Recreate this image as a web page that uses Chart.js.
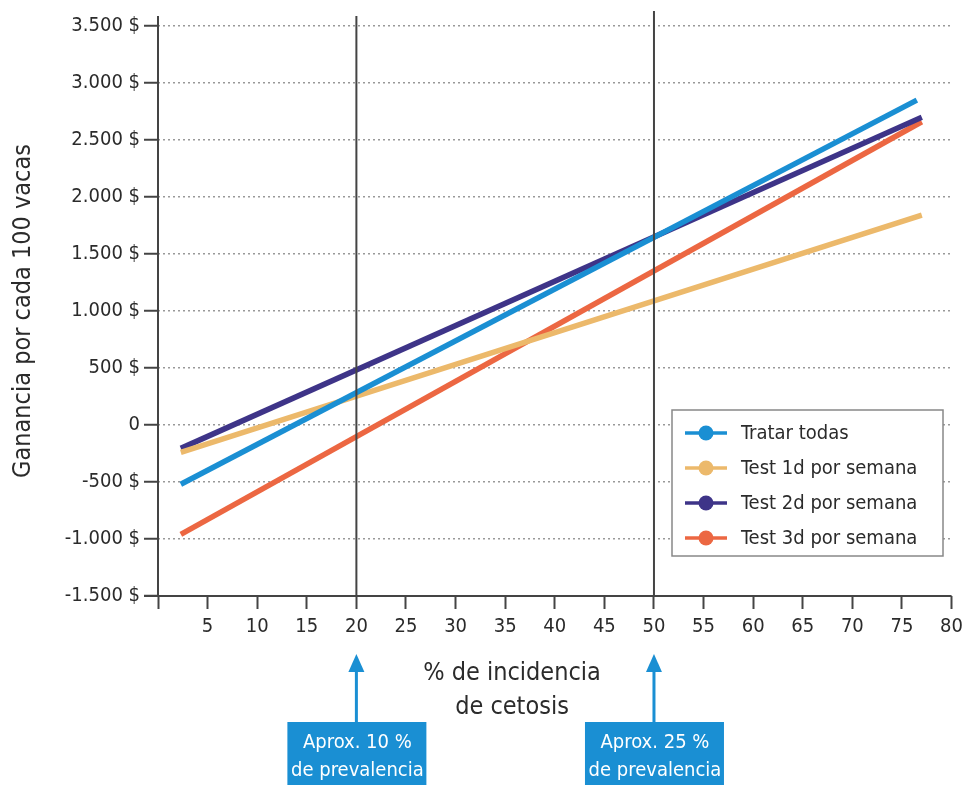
<!DOCTYPE html>
<html>
<head>
<meta charset="utf-8">
<script src="https://cdn.jsdelivr.net/npm/chart.js@4.4.1/dist/chart.umd.min.js"></script>
<style>
  html, body { margin: 0; padding: 0; background: #fff; }
  #wrap { width: 969px; height: 785px; }
</style>
</head>
<body>
<div id="wrap"><canvas id="chart" width="969" height="785"></canvas></div>
<script>
const FONT = '"Liberation Sans Narrow", "DejaVu Sans Condensed", "Liberation Sans", sans-serif';

// data
const seriesNames = ["Tratar todas", "Test 1d por semana", "Test 2d por semana", "Test 3d por semana"];
const seriesColors = ["#1a8fd3", "#ecb96b", "#3e3488", "#ec6742"];
const tratarX = [2.3, 76.5];
const tratarY = [-520, 2850];
const test1dX = [2.3, 77];
const test1dY = [-240, 1840];
const test2dX = [2.3, 77];
const test2dY = [-205, 2700];
const test3dX = [2.3, 77];
const test3dY = [-960, 2660];
const markers = [20, 50];
const markerNotes = [["Aprox. 10 %", "de prevalencia"], ["Aprox. 25 %", "de prevalencia"]];
const xTitle = ["% de incidencia", "de cetosis"];
const yTitle = "Ganancia por cada 100 vacas";

const pts = (xs, ys) => xs.map((x, i) => ({x: x, y: ys[i]}));
const allX = [tratarX, test1dX, test2dX, test3dX];
const allY = [tratarY, test1dY, test2dY, test3dY];

const datasets = seriesNames.map((name, i) => ({
    label: name,
    data: pts(allX[i], allY[i]),
    borderColor: seriesColors[i],
    backgroundColor: seriesColors[i],
    borderWidth: 5.5,
    pointRadius: 0,
    tension: 0
}));

function fmtMoney(v) {
    if (v === 0) return '0';
    const s = Math.abs(v).toString().replace(/\B(?=(\d{3})+(?!\d))/g, '.');
    return (v < 0 ? '-' : '') + s + ' $';
}

const extras = {
    id: 'extras',
    afterDatasetsDraw(chart) {
        const {ctx, chartArea: a, scales: {x, y}} = chart;
        ctx.save();
        // axes
        ctx.strokeStyle = '#444';
        ctx.lineWidth = 2;
        ctx.beginPath();
        ctx.moveTo(a.left, a.top - 10);
        ctx.lineTo(a.left, a.bottom);
        ctx.moveTo(a.left - 14, a.bottom);
        ctx.lineTo(a.right, a.bottom);
        ctx.stroke();
        // vertical marker lines
        markers.forEach((m, i) => {
            const px = x.getPixelForValue(m);
            ctx.beginPath();
            ctx.moveTo(px, a.top - (i === 0 ? 10 : 15));
            ctx.lineTo(px, a.bottom);
            ctx.stroke();
        });
        // legend
        const lx = 672, ly = 410, lw = 271, lh = 146;
        ctx.fillStyle = '#fff';
        ctx.fillRect(lx, ly, lw, lh);
        ctx.strokeStyle = '#888';
        ctx.lineWidth = 1.5;
        ctx.strokeRect(lx, ly, lw, lh);
        ctx.font = '20px ' + FONT;
        ctx.textBaseline = 'middle';
        ctx.textAlign = 'left';
        seriesNames.forEach((name, i) => {
            const cy = 433 + i * 35;
            ctx.strokeStyle = seriesColors[i];
            ctx.fillStyle = seriesColors[i];
            ctx.lineWidth = 3.5;
            ctx.beginPath();
            ctx.moveTo(685, cy);
            ctx.lineTo(727, cy);
            ctx.stroke();
            ctx.beginPath();
            ctx.arc(706, cy, 7.5, 0, Math.PI * 2);
            ctx.fill();
            ctx.fillStyle = '#2b2b2b';
            ctx.fillText(name, 741, cy + 1);
        });
        // x title
        ctx.font = '25px ' + FONT;
        ctx.textAlign = 'center';
        ctx.fillStyle = '#2b2b2b';
        ctx.fillText(xTitle[0], 512, 673);
        ctx.fillText(xTitle[1], 512, 707);
        // arrows and notes
        markers.forEach((m, i) => {
            const px = x.getPixelForValue(m);
            ctx.strokeStyle = '#1a8fd3';
            ctx.fillStyle = '#1a8fd3';
            ctx.lineWidth = 3;
            ctx.beginPath();
            ctx.moveTo(px, 668);
            ctx.lineTo(px, 722);
            ctx.stroke();
            ctx.beginPath();
            ctx.moveTo(px, 654);
            ctx.lineTo(px - 8, 672);
            ctx.lineTo(px + 8, 672);
            ctx.closePath();
            ctx.fill();
            ctx.fillRect(px - 69, 722, 139, 63);
            ctx.fillStyle = '#fff';
            ctx.font = '20px ' + FONT;
            ctx.fillText(markerNotes[i][0], px + 1, 743);
            ctx.fillText(markerNotes[i][1], px + 1, 771);
        });
        ctx.restore();
    }
};

new Chart(document.getElementById('chart'), {
    type: 'line',
    data: { datasets: datasets },
    options: {
        responsive: false,
        animation: false,
        layout: { padding: { top: 26, right: 14, left: 0, bottom: 0 } },
        plugins: { legend: { display: false }, tooltip: { enabled: false } },
        scales: {
            x: {
                type: 'linear',
                min: 0,
                max: 80,
                border: { display: false },
                grid: { drawOnChartArea: false, drawTicks: true, tickLength: 13, tickColor: '#444', tickWidth: 2 },
                ticks: {
                    stepSize: 5,
                    padding: 6,
                    color: '#2b2b2b',
                    font: { family: FONT, size: 20 },
                    callback: v => v === 0 ? '' : v
                },
                afterFit: s => { s.height = 189; }
            },
            y: {
                min: -1500,
                max: 3500,
                border: { display: false, dash: [2, 3] },
                grid: {
                    color: '#999',
                    lineWidth: 1.5,
                    drawTicks: true,
                    tickLength: 14,
                    tickColor: '#444',
                    tickWidth: 2,
                    tickBorderDash: []
                },
                ticks: {
                    stepSize: 500,
                    padding: 4,
                    color: '#2b2b2b',
                    font: { family: FONT, size: 20 },
                    callback: v => fmtMoney(v)
                },
                title: {
                    display: true,
                    text: yTitle,
                    color: '#2b2b2b',
                    font: { family: FONT, size: 25 },
                    padding: { top: 8, bottom: 0 }
                },
                afterFit: s => { s.width = 158; }
            }
        }
    },
    plugins: [extras]
});
</script>
</body>
</html>
